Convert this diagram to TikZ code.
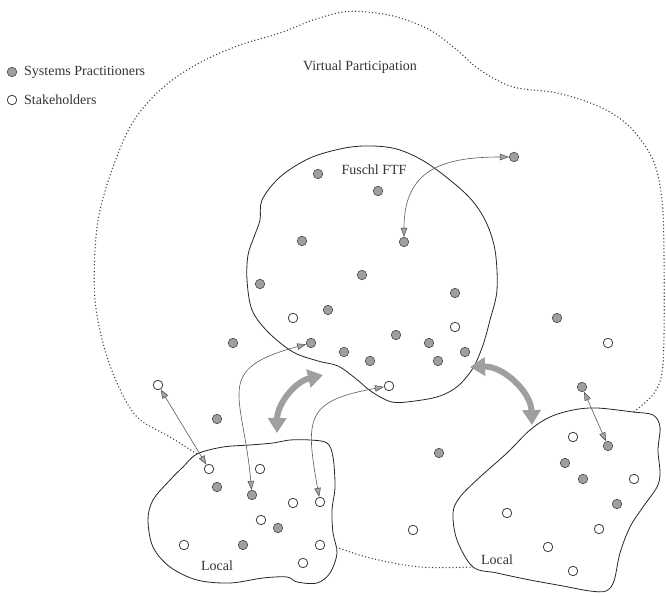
\documentclass[tikz,border=0pt]{standalone}
\usepackage{fontspec}
\setmainfont{Liberation Serif}
\usetikzlibrary{arrows.meta}

\tikzset{
  sp/.style={circle, minimum size=9.5pt, inner sep=0pt, fill=gray!75, draw=gray!55!black, line width=0.6pt},
  sh/.style={circle, minimum size=9.5pt, inner sep=0pt, fill=white, draw=black!75, line width=0.8pt},
  region/.style={draw=black!85, line width=0.8pt},
  virtual/.style={draw=black!75, line width=1.1pt, dash pattern=on 1.1pt off 2.3pt},
  link/.style={draw=black!65, line width=0.6pt,
    {Triangle[length=9pt,width=6.5pt,fill=gray!70]}-{Triangle[length=9pt,width=6.5pt,fill=gray!70]}},
  flow/.style={draw=gray!75, line width=6pt, {Triangle[length=15pt,width=18pt]}-{Triangle[length=15pt,width=18pt]}},
  lbl/.style={font=\fontsize{14}{16}\selectfont, text=black!80, inner sep=1pt},
}

\begin{document}
\begin{tikzpicture}[x=1pt, y=1pt]
  \useasboundingbox (0,0) rectangle (666,596);

  % Fuschl face-to-face meeting
  \draw[region] plot[smooth cycle, tension=0.55] coordinates {
    (262,396) (280,419) (310,438) (345,448) (373,450) (400,446) (430,431)
    (467,401) (485,376) (495,346) (497,306) (490,276) (483,251) (473,228)
    (458,210) (440,200) (415,195) (392,194) (372,204) (355,218) (338,230)
    (318,235) (293,244) (268,264) (252,286) (247,316) (248,341) (254,359)
    (260,376)};
  % local groups
  \draw[region] plot[smooth cycle, tension=0.55] coordinates {
    (197,142) (223,149) (250,151) (273,153) (290,156) (310,156) (327,153)
    (333,139) (335,109) (332,86) (333,63) (337,43) (330,23) (317,13)
    (297,14) (287,19) (263,18) (230,13) (197,16) (170,29) (153,49)
    (148,76) (153,96) (170,116) (183,129)};
  \draw[region] plot[smooth cycle, tension=0.55] coordinates {
    (530,166) (550,179) (573,186) (597,188) (633,184) (653,181) (660,169)
    (658,146) (660,123) (657,109) (643,89) (630,69) (620,43) (614,15)
    (606,5) (590,5) (563,10) (530,16) (497,23) (473,29) (457,56)
    (453,83) (460,99) (480,119) (507,143)};
  % virtual participation
  \draw[virtual] plot[smooth, tension=0.55] coordinates {
    (197,142) (170,159) (137,179) (117,213) (103,253) (95,296) (95,346)
    (100,386) (113,429) (130,469) (150,496) (175,518) (205,536) (240,551)
    (280,563) (313,576) (343,584) (367,584) (397,579) (430,566) (457,546)
    (480,526) (513,509) (557,503) (600,489) (630,469) (653,436) (662,396)
    (664,340) (664,260) (662,223) (655,204) (640,189) (633,184)};
  \draw[virtual] plot[smooth, tension=0.55] coordinates {
    (336,49) (370,38) (420,29) (473,29)};

  % systems practitioners
  \foreach \n/\x/\y in {fa/318/422, fb/378/405, fc/404/354, fd/302/355,
      fe/362/321, ff/260/312, fg/455/303, fh/328/286, fi/396/261,
      fj/311/253, fk/344/244, fl/370/235, fm/429/253, fn/465/244,
      fo/438/235, vp/514/439, oa/233/253, ob/217/177, oc/557/278,
      od/582/209, oe/439/143, la/217/109, lb/252/101, lc/278/68,
      ld/243/51, ra/608/150, rb/565/133, rc/583/117, rd/617/92}
    \node[sp] (sp-\n) at (\x,\y) {};
  % stakeholders
  \foreach \n/\x/\y in {fa/293/278, fb/455/269, fc/389/210, oa/158/211,
      ob/608/253, oc/413/66, la/209/127, lb/260/127, lc/293/93,
      ld/320/94, le/261/76, lf/184/51, lg/320/51, lh/303/33,
      ra/573/159, rb/634/117, rc/507/83, rd/599/67, re/548/49, rf/573/25}
    \node[sh] (sh-\n) at (\x,\y) {};

  % legend
  \node[sp] (key-sp) at (12,524) {};
  \node[lbl, anchor=west] (key-sp-text) at (23,524) {Systems Practitioners};
  \node[sh] (key-sh) at (12,496) {};
  \node[lbl, anchor=west] (key-sh-text) at (23,496) {Stakeholders};

  % labels
  \node[lbl] (virtual) at (360,529) {Virtual Participation};
  \node[lbl] (fuschl) at (374,426) {Fuschl FTF};
  \node[lbl] (local-l) at (217,30) {Local};
  \node[lbl] (local-r) at (497,36) {Local};

  % links
  \draw[link] (sp-vp) to[out=180, in=90, looseness=1.3] (sp-fc);
  \draw[link] (sp-fj) to[out=195, in=95, looseness=1.6] (sp-lb);
  \draw[link] (sh-fc) to[out=190, in=100, looseness=1.6] (sh-ld);
  \draw[link] (sh-oa) -- (sh-la);
  \draw[link] (sp-od) -- (sp-ra);

  % exchange between meetings
  \coordinate (fl-a) at (277,163);
  \coordinate (fl-b) at (323,221);
  \draw[flow] (fl-a) to[bend left=38] (fl-b);
  \coordinate (fr-a) at (470,229);
  \coordinate (fr-b) at (532,171);
  \draw[flow] (fr-a) to[bend left=45] (fr-b);
\end{tikzpicture}
\end{document}
